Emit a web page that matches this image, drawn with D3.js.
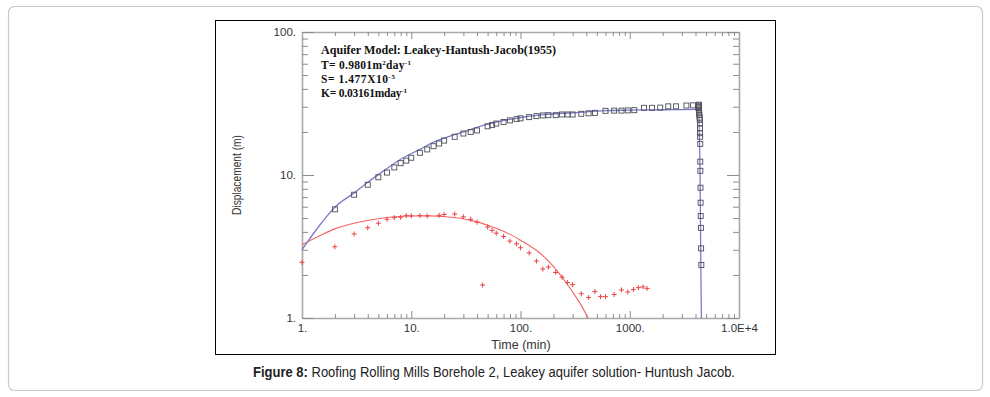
<!DOCTYPE html>
<html>
<head>
<meta charset="utf-8">
<script src="https://cdnjs.cloudflare.com/ajax/libs/d3/7.8.5/d3.min.js"></script>
<style>
  body { margin: 0; background: #fff; }
  svg { display: block; }
</style>
</head>
<body>
<div id="chart"></div>
<script>
// observed drawdown / recovery (squares)
const obsTime = [2, 3, 4, 5, 6, 7, 8, 9, 10, 12, 14, 16, 18, 20, 25, 30, 35, 40, 50, 55, 60, 70, 80, 92, 100,
  120, 140, 160, 180, 210, 240, 270, 300, 360, 420, 480, 600, 720, 840, 960, 1100, 1350, 1600, 1900, 2250,
  2650, 3300, 3800, 4300,
  4250, 4260, 4270, 4280, 4290, 4300, 4320, 4340, 4360, 4380, 4390, 4400, 4400, 4410, 4420, 4420, 4430, 4440,
  4450, 4460, 4480, 4500, 4520];
const obsDisp = [5.75, 7.28, 8.55, 9.64, 10.4, 11.3, 12.1, 12.6, 13.2, 14.3, 15.1, 15.9, 16.6, 17.4, 18.5, 19.5,
  20.0, 20.5, 21.9, 22.4, 22.9, 23.5, 24.1, 24.6, 24.9, 25.4, 25.8, 26.1, 26.2, 26.2, 26.5, 26.5, 26.5, 26.8,
  27.0, 27.2, 28.1, 28.2, 28.2, 28.3, 28.4, 29.5, 29.5, 29.6, 30.2, 30.2, 30.6, 30.7, 31.0,
  30.7, 30.2, 29.8, 29.3, 28.6, 27.8, 27.0, 26.2, 25.2, 24.3, 22.9, 21.2, 19.6, 18.5, 16.5, 12.4, 10.7, 8.15,
  6.4, 5.17, 4.27, 3.07, 2.35, 2.03];

// derivative / second series (plus marks)
const derTime = [1, 2, 3, 4, 5, 6, 7, 8, 9, 10, 12, 14, 18, 20, 25, 30, 35, 40, 45, 50, 55, 60, 70, 80, 92, 100,
  120, 140, 160, 180, 210, 240, 270, 300, 360, 420, 480, 540, 600, 720, 840, 960, 1080, 1200, 1320, 1440];
const derDisp = [2.45, 3.15, 3.87, 4.28, 4.6, 4.9, 5.03, 5.06, 5.2, 5.18, 5.2, 5.18, 5.22, 5.3, 5.33, 5.1, 4.9,
  4.68, 1.7, 4.33, 4.1, 3.92, 3.72, 3.45, 3.3, 3.1, 2.85, 2.5, 2.2, 2.27, 2.08, 1.93, 1.77, 1.71, 1.48, 1.39,
  1.53, 1.41, 1.41, 1.46, 1.57, 1.52, 1.58, 1.63, 1.65, 1.61];

// fitted type curves
const fitTime = [1, 1.5, 2, 3, 4, 6, 8, 12, 16, 24, 30, 50, 80, 160, 320, 600, 1000, 2000, 4240, 4400, 4480, 4530];
const fitDisp = [3.0, 4.6, 5.95, 7.5, 8.9, 11.1, 12.9, 15.1, 17.0, 19.0, 20.0, 22.7, 24.5, 26.4, 27.3, 28.2, 28.4,
  28.6, 28.8, 10.3, 2.03, 1.0];
const derFitTime = [1, 1.5, 2, 3, 5, 7, 10, 15, 20, 30, 40, 50, 70, 100, 150, 200, 250, 300, 350, 415];
const derFitDisp = [3.25, 3.8, 4.2, 4.6, 4.95, 5.1, 5.17, 5.18, 5.12, 4.95, 4.7, 4.45, 4.05, 3.5, 2.85, 2.3, 1.85,
  1.52, 1.27, 1.0];

const xLabels = { 1: "1.", 10: "10.", 100: "100.", 1000: "1000.", 10000: "1.0E+4" };
const yLabels = { 1: "1.", 10: "10.", 100: "100." };

const W = 990, H = 397;
const svg = d3.select("#chart").append("svg").attr("width", W).attr("height", H);

// outer card and figure frame
svg.append("rect").attr("x", 8.5).attr("y", 6.5).attr("width", 974).attr("height", 384)
  .attr("rx", 6).attr("fill", "#fff").attr("stroke", "#c9c9c9").attr("stroke-width", 1.2);
svg.append("rect").attr("x", 215.5).attr("y", 20.5).attr("width", 560).attr("height", 334)
  .attr("fill", "#fff").attr("stroke", "#000").attr("stroke-width", 1);

const x = d3.scaleLog().domain([1, 1e4]).range([302, 739]);
const y = d3.scaleLog().domain([1, 100]).range([318, 32]);

const xTicks = [];
[1, 10, 100, 1000].forEach(d => { for (let i = 1; i < 10; i++) xTicks.push(d * i); });
xTicks.push(10000);
const yTicks = [];
[1, 10].forEach(d => { for (let i = 1; i < 10; i++) yTicks.push(d * i); });
yTicks.push(100);

const isMajor = d => Math.abs(Math.log10(d) - Math.round(Math.log10(d))) < 1e-9;

function styleAxis(g, major) {
  g.select(".domain").attr("stroke", "#a9a9a9").attr("stroke-width", 1.6);
  g.selectAll(".tick line").attr("stroke", "#8c8c8c").attr("stroke-width", 1);
  g.selectAll(".tick text").attr("fill", "#333")
    .style("font-family", "Liberation Sans, Arial, sans-serif").style("font-size", "11.5px");
  major(g);
}

svg.append("g").attr("transform", "translate(0,318)")
  .call(d3.axisBottom(x).tickValues(xTicks).tickSize(-4).tickSizeOuter(0).tickPadding(6)
    .tickFormat(d => xLabels[d] || ""))
  .call(g => styleAxis(g, g => g.selectAll(".tick line").filter(isMajor).attr("y2", -7)));

svg.append("g").attr("transform", "translate(0,32)")
  .call(d3.axisTop(x).tickValues(xTicks).tickSize(-4).tickSizeOuter(0).tickFormat(""))
  .call(g => styleAxis(g, g => g.selectAll(".tick line").filter(isMajor).attr("y2", 7)));

svg.append("g").attr("transform", "translate(302,0)")
  .call(d3.axisLeft(y).tickValues(yTicks).tickSize(-6).tickSizeOuter(0).tickPadding(6)
    .tickFormat(d => yLabels[d] || ""))
  .call(g => styleAxis(g, g => g.selectAll(".tick line").filter(isMajor).attr("x2", 12)));

svg.append("g").attr("transform", "translate(739,0)")
  .call(d3.axisRight(y).tickValues(yTicks).tickSize(-6).tickSizeOuter(0).tickFormat(""))
  .call(g => styleAxis(g, g => g.selectAll(".tick line").filter(isMajor).attr("x2", -12)));

// fitted curves
const line = d3.line().x(d => x(d[0])).y(d => y(d[1])).curve(d3.curveMonotoneX);
svg.append("path").datum(derFitTime.map((t, i) => [t, derFitDisp[i]]))
  .attr("d", line).attr("fill", "none").attr("stroke", "#f26464").attr("stroke-width", 1.1);
svg.append("path").datum(fitTime.map((t, i) => [t, fitDisp[i]]))
  .attr("d", line).attr("fill", "none").attr("stroke", "#7b7bc8").attr("stroke-width", 1.3);

// observed squares
svg.append("g").selectAll("rect")
  .data(obsTime.map((t, i) => [t, obsDisp[i]]))
  .join("rect")
  .attr("x", d => x(d[0]) - 2.5).attr("y", d => y(d[1]) - 2.5)
  .attr("width", 5).attr("height", 5)
  .attr("fill", "none").attr("stroke", "#4d4d5c").attr("stroke-width", 0.9);

// plus marks
svg.append("g").selectAll("path")
  .data(derTime.map((t, i) => [t, derDisp[i]]))
  .join("path")
  .attr("transform", d => `translate(${x(d[0])},${y(d[1])})`)
  .attr("d", "M-2.5,0H2.5M0,-2.5V2.5")
  .attr("stroke", "#ec4444").attr("stroke-width", 1);

// annotation
const note = svg.append("g").style("font-family", "Liberation Serif, Times New Roman, serif")
  .style("font-weight", "bold").style("font-size", "11.5px").attr("fill", "#111");
note.append("text").attr("x", 321).attr("y", 54).attr("textLength", 235).attr("lengthAdjust", "spacingAndGlyphs")
  .text("Aquifer Model: Leakey-Hantush-Jacob(1955)");
const t2 = note.append("text").attr("x", 321).attr("y", 69).attr("textLength", 90);
t2.append("tspan").text("T= 0.9801m");
t2.append("tspan").attr("dy", -4).style("font-size", "7px").text("2");
t2.append("tspan").attr("dy", 4).text("day");
t2.append("tspan").attr("dy", -4).style("font-size", "7px").text("-1");
const t3 = note.append("text").attr("x", 321).attr("y", 83).attr("textLength", 74);
t3.append("tspan").text("S= 1.477X10");
t3.append("tspan").attr("dy", -4).style("font-size", "7px").text("-5");
const t4 = note.append("text").attr("x", 321).attr("y", 97).attr("textLength", 86);
t4.append("tspan").text("K= 0.03161mday");
t4.append("tspan").attr("dy", -4).style("font-size", "7px").text("-1");

// axis titles
svg.append("text").attr("x", 521).attr("y", 349).attr("text-anchor", "middle")
  .style("font-family", "Liberation Sans, Arial, sans-serif").style("font-size", "12.5px").attr("fill", "#333")
  .text("Time (min)");
svg.append("text").attr("transform", "translate(241,175) rotate(-90)").attr("text-anchor", "middle")
  .attr("textLength", 80).attr("lengthAdjust", "spacingAndGlyphs")
  .style("font-family", "Liberation Sans Narrow, Arial Narrow, sans-serif").style("font-size", "12.5px")
  .attr("fill", "#333").text("Displacement (m)");

// caption
const cap = svg.append("text").attr("x", 494).attr("y", 377).attr("text-anchor", "middle")
  .attr("textLength", 482).attr("lengthAdjust", "spacingAndGlyphs")
  .style("font-family", "Liberation Sans Narrow, Arial Narrow, sans-serif").style("font-size", "14px")
  .attr("fill", "#222");
cap.append("tspan").style("font-weight", "bold").text("Figure 8:");
cap.append("tspan").text(" Roofing Rolling Mills Borehole 2, Leakey aquifer solution- Huntush Jacob.");
</script>
</body>
</html>
